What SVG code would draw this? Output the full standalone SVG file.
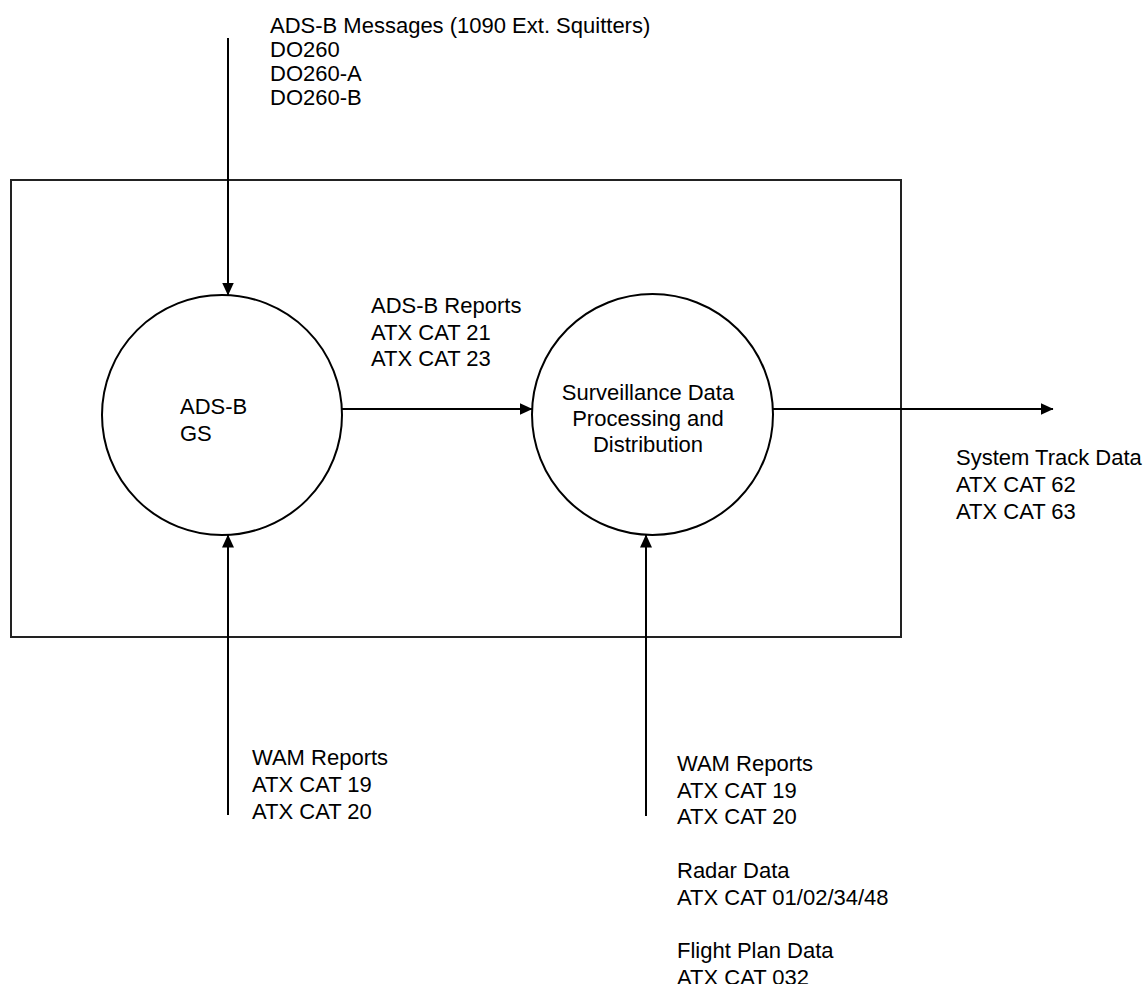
<svg xmlns="http://www.w3.org/2000/svg" width="1147" height="984" viewBox="0 0 1147 984">
<style>
text{font-family:"Liberation Sans",Arial,sans-serif;font-size:22px;fill:#000}
.ln{stroke:#000;stroke-width:2;fill:none}
.nd{stroke:#000;stroke-width:2;fill:#fff}
</style>
<defs>
<marker id="ah" markerWidth="13" markerHeight="12" refX="12.5" refY="6" orient="auto" markerUnits="userSpaceOnUse">
<path d="M0,0 L13,6 L0,12 Z" fill="#000"/>
</marker>
</defs>
<rect width="1147" height="984" fill="#fff"/>
<g id="boundary"><rect x="11" y="180" width="890" height="457" fill="none" stroke="#222" stroke-width="2"/></g>
<g id="connectors">
<line class="ln" x1="228" y1="38" x2="228" y2="295" marker-end="url(#ah)"/>
<line class="ln" x1="342" y1="409" x2="532" y2="409" marker-end="url(#ah)"/>
<line class="ln" x1="773" y1="409" x2="1053" y2="409" marker-end="url(#ah)"/>
<line class="ln" x1="228" y1="815" x2="228" y2="535" marker-end="url(#ah)"/>
<line class="ln" x1="646" y1="816" x2="646" y2="535" marker-end="url(#ah)"/>
</g>
<g id="node-adsb-gs">
<circle class="nd" cx="222" cy="415" r="120"/>
<text x="180" y="414">ADS-B</text>
<text x="180" y="441">GS</text>
</g>
<g id="node-sdpd">
<circle class="nd" cx="652.5" cy="414.5" r="120.5"/>
<text x="648" y="400" text-anchor="middle">Surveillance Data</text>
<text x="648" y="426" text-anchor="middle">Processing and</text>
<text x="648" y="452" text-anchor="middle">Distribution</text>
</g>
<g id="labels">
<text x="270" y="33">ADS-B Messages (1090 Ext. Squitters)</text>
<text x="270" y="57">DO260</text>
<text x="270" y="81">DO260-A</text>
<text x="270" y="105">DO260-B</text>
<text x="371" y="313">ADS-B Reports</text>
<text x="371" y="340">ATX CAT 21</text>
<text x="371" y="366">ATX CAT 23</text>
<text x="956" y="465">System Track Data</text>
<text x="956" y="492">ATX CAT 62</text>
<text x="956" y="519">ATX CAT 63</text>
<text x="252" y="765">WAM Reports</text>
<text x="252" y="792">ATX CAT 19</text>
<text x="252" y="819">ATX CAT 20</text>
<text x="677" y="771">WAM Reports</text>
<text x="677" y="798">ATX CAT 19</text>
<text x="677" y="824">ATX CAT 20</text>
<text x="677" y="878">Radar Data</text>
<text x="677" y="905">ATX CAT 01/02/34/48</text>
<text x="677" y="958">Flight Plan Data</text>
<text x="677" y="985">ATX CAT 032</text>
</g>
</svg>
